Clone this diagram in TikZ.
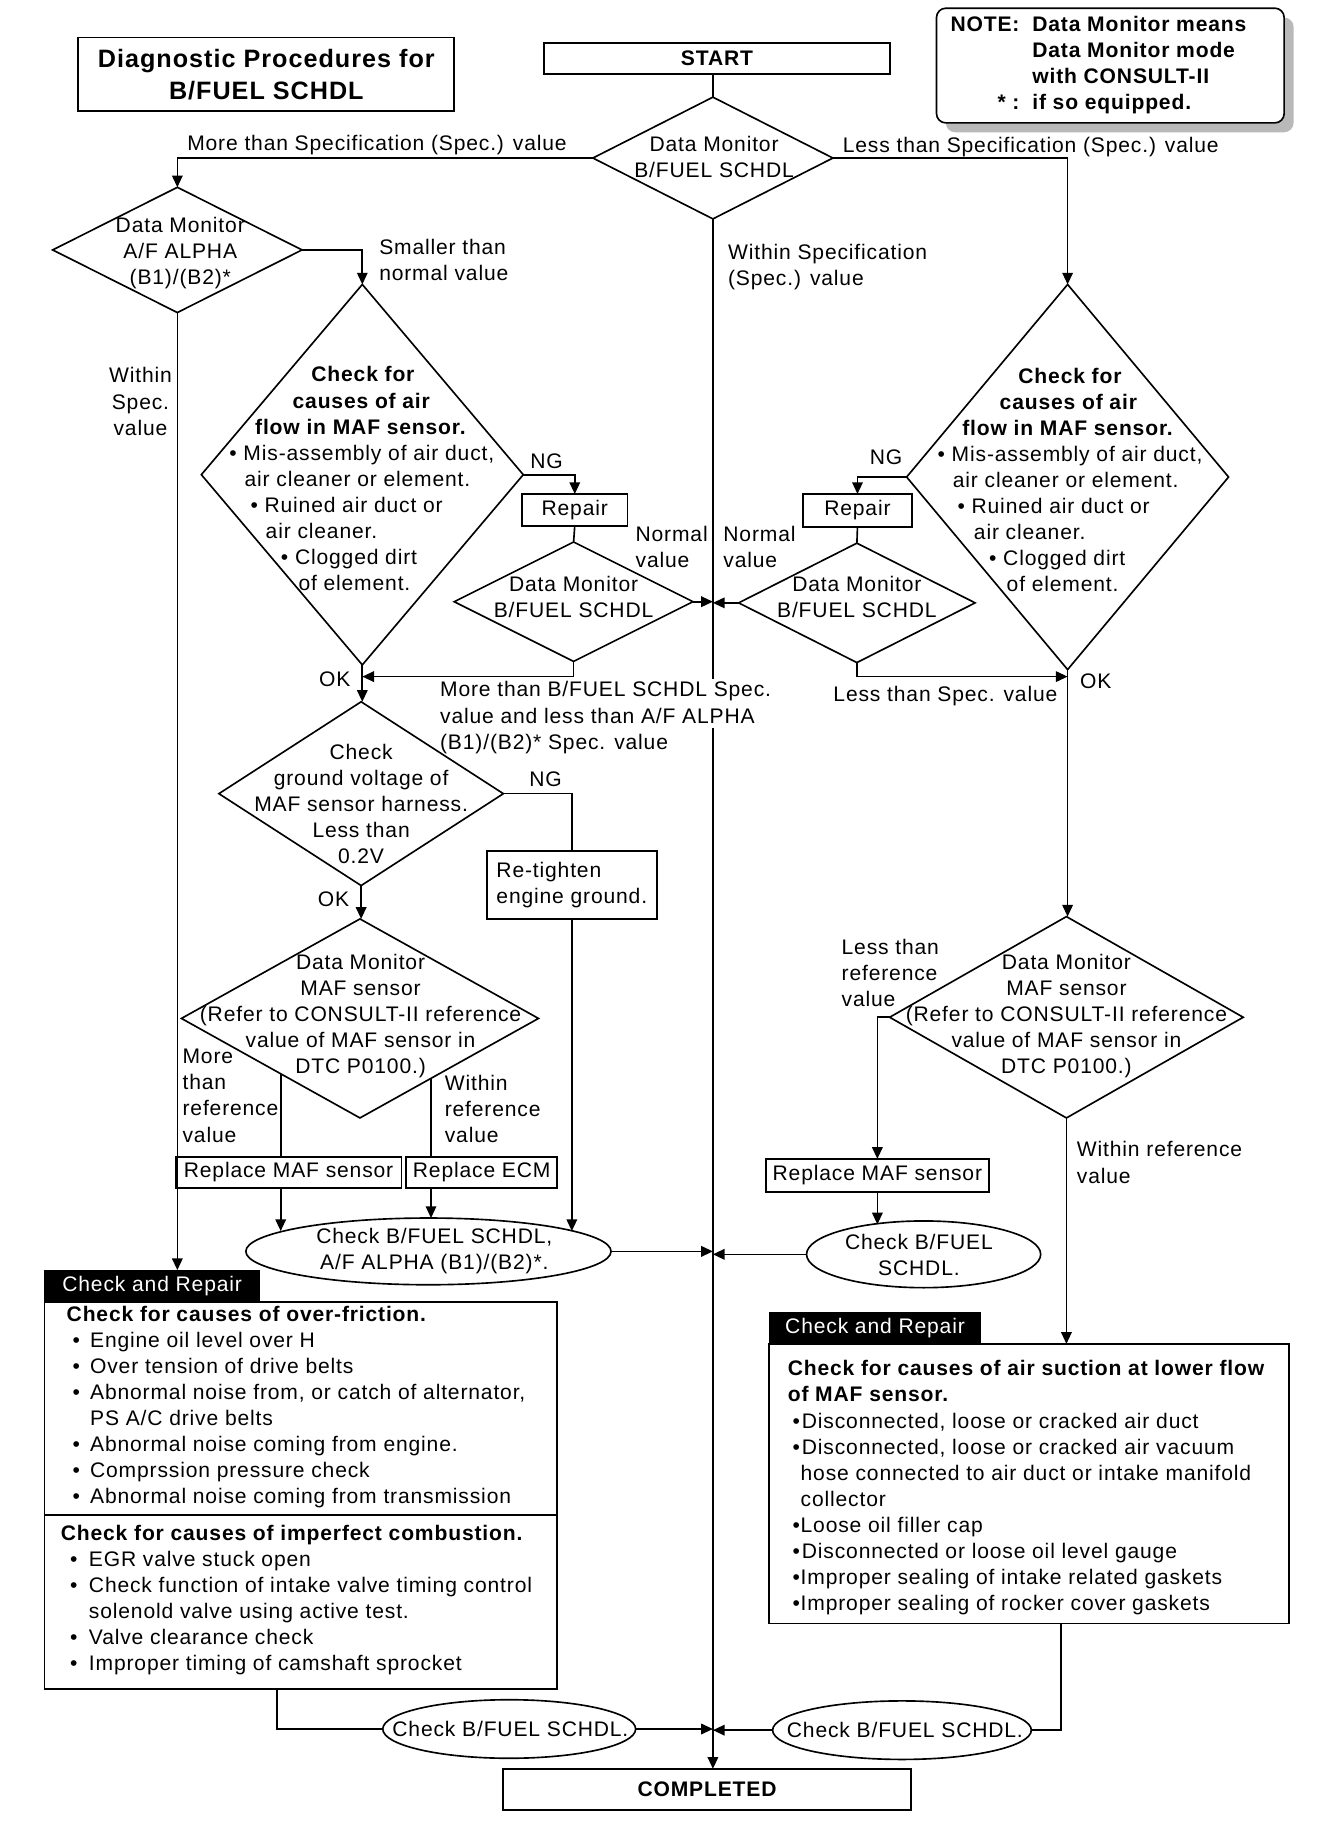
\documentclass[tikz,border=0pt]{standalone}
\usepackage{fontspec}
\setmainfont[LetterSpace=4]{Liberation Sans}
\usetikzlibrary{shapes.geometric,arrows.meta,calc}
\newcommand\myfs{\fontsize{18}{22.3}\selectfont}
\newcommand\mybul{\makebox[15pt][l]{•}}
\begin{document}
\begin{tikzpicture}[x=1pt,y=-1pt,line width=1.4pt,
  every node/.style={inner sep=0pt,outer sep=0pt,font=\myfs},
  dia/.style={draw,diamond},
  boxx/.style={draw,rectangle,line width=1.6pt},
  ell/.style={draw,ellipse},
  arr/.style={-{Triangle[length=10pt,width=9pt]}},
  lbl/.style={align=left,anchor=west},
  ctr/.style={align=center},
  head/.style={fill=black,text=white,rectangle}]
\useasboundingbox[fill=white] (0,0) rectangle (1148,1565);

% title, start, note
\node[boxx,minimum width=321pt,minimum height=63pt,align=center,font=\fontsize{21.5}{27}\selectfont\bfseries] (title) at (227.5,63.5) {Diagnostic Procedures for\\B/FUEL SCHDL};
\node[boxx,minimum width=295pt,minimum height=26pt,font=\myfs\bfseries] (start) at (612.5,50) {START};
\fill[gray!55,rounded corners=8pt] (808,15) rectangle (1105,113);
\node[draw,fill=white,rounded corners=8pt,minimum width=297pt,minimum height=98pt] (note) at (948.5,56) {};
\node[anchor=west,font=\myfs\bfseries] (notet) at (812,56) {\begin{tabular}{@{}r@{\hspace{11pt}}l@{}}NOTE: & Data Monitor means\\ & Data Monitor mode\\ & with CONSULT-II\\ {*}\ : & if so equipped.\end{tabular}};

% diamonds
\node[dia,minimum width=205pt,minimum height=104pt] (d1) at (609,135) {};
\node[ctr] (d1t) at (610,134) {Data Monitor\\B/FUEL SCHDL};
\node[dia,minimum width=213pt,minimum height=107pt] (d2) at (151.5,213.5) {};
\node[ctr] (d2t) at (154,216) {Data Monitor\\A/F ALPHA\\(B1)/(B2)*};
\node[dia,minimum width=275pt,minimum height=325pt] (d3) at (309.5,405.5) {};
\node[lbl] (d3t) at (196,409) {\hspace*{70pt}\textbf{Check for}\\\hspace*{54pt}\textbf{causes of air}\\\hspace*{22pt}\textbf{flow in MAF sensor.}\\•\ Mis-assembly of air duct,\\\hspace*{13pt}air cleaner or element.\\\hspace*{18pt}•\ Ruined air duct or\\\hspace*{31pt}air cleaner.\\\hspace*{44pt}•\ Clogged dirt\\\hspace*{59pt}of element.};
\node[dia,minimum width=275pt,minimum height=329pt] (d7) at (912,407.5) {};
\node[lbl] (d7t) at (801,410) {\hspace*{69pt}\textbf{Check for}\\\hspace*{53pt}\textbf{causes of air}\\\hspace*{21pt}\textbf{flow in MAF sensor.}\\•\ Mis-assembly of air duct,\\\hspace*{13pt}air cleaner or element.\\\hspace*{17pt}•\ Ruined air duct or\\\hspace*{31pt}air cleaner.\\\hspace*{44pt}•\ Clogged dirt\\\hspace*{59pt}of element.};
\node[boxx,minimum width=90pt,minimum height=27pt] (repL) at (491,435.5) {Repair};
\node[dia,minimum width=204pt,minimum height=102pt] (d4) at (490,514) {};
\node[ctr] (d4t) at (490,510) {Data Monitor\\B/FUEL SCHDL};
\node[boxx,minimum width=93pt,minimum height=28pt] (repR) at (732.5,436) {Repair};
\node[dia,minimum width=202pt,minimum height=102pt] (d8) at (732,515) {};
\node[ctr] (d8t) at (732,510) {Data Monitor\\B/FUEL SCHDL};
\node[dia,minimum width=243pt,minimum height=157pt] (d5) at (308.5,678) {};
\node[ctr] (d5t) at (308.5,687) {Check\\ground voltage of\\MAF sensor harness.\\Less than\\0.2V};
\node[boxx,minimum width=145pt,minimum height=58pt,align=left] (rt) at (488.5,756) {Re-tighten\\engine ground.};
\node[dia,minimum width=305pt,minimum height=170pt] (d6) at (307.5,870) {};
\node[ctr] (d6t) at (308,868) {Data Monitor\\MAF sensor\\(Refer to CONSULT-II reference\\value of MAF sensor in\\DTC P0100.)};
\node[boxx,minimum width=193pt,minimum height=27pt] (mafL) at (246.5,1001.5) {Replace MAF sensor};
\node[boxx,minimum width=129pt,minimum height=27pt] (ecm) at (411.5,1001.5) {Replace ECM};
\node[dia,minimum width=302pt,minimum height=172pt] (d9) at (911,869) {};
\node[ctr] (d9t) at (911,868) {Data Monitor\\MAF sensor\\(Refer to CONSULT-II reference\\value of MAF sensor in\\DTC P0100.)};
\node[boxx,minimum width=191pt,minimum height=28pt] (mafR) at (749.5,1004) {Replace MAF sensor};

% ellipses
\node[ell,minimum width=312pt,minimum height=57pt] (e1) at (366,1069) {};
\node[ctr] (e1t) at (371,1069) {Check B/FUEL SCHDL,\\A/F ALPHA (B1)/(B2)*.};
\node[ell,minimum width=200pt,minimum height=57pt] (e2) at (789,1071.5) {};
\node[ctr] (e2t) at (785,1072) {Check B/FUEL\\SCHDL.};
\node[ell,minimum width=216pt,minimum height=50pt] (e3) at (435,1477) {};
\node (e3t) at (436,1477) {Check B/FUEL SCHDL.};
\node[ell,minimum width=221pt,minimum height=50pt] (e4) at (770.5,1478) {};
\node (e4t) at (773,1478) {Check B/FUEL SCHDL.};
\node[boxx,minimum width=348pt,minimum height=35pt,font=\myfs\bfseries] (done) at (604,1528.5) {COMPLETED};

% check and repair boxes
\node[boxx,line width=1.4pt,minimum width=438pt,minimum height=331pt] (lbox) at (257,1277.5) {};
\node[head,minimum width=184pt,minimum height=27pt] (lhead) at (130,1098.5) {Check and Repair};
\draw (lbox.west |- 0,1294) -- (lbox.east |- 0,1294);
\node[lbl] (ls1) at (57,1202) {\textbf{Check for causes of over-friction.}\\
\hspace*{5pt}\mybul Engine oil level over H\\
\hspace*{5pt}\mybul Over tension of drive belts\\
\hspace*{5pt}\mybul Abnormal noise from, or catch of alternator,\\
\hspace*{20pt}PS A/C drive belts\\
\hspace*{5pt}\mybul Abnormal noise coming from engine.\\
\hspace*{5pt}\mybul Comprssion pressure check\\
\hspace*{5pt}\mybul Abnormal noise coming from transmission};
\node[lbl] (ls2) at (52,1367) {\textbf{Check for causes of imperfect combustion.}\\
\hspace*{8pt}\makebox[16pt][l]{•}EGR valve stuck open\\
\hspace*{8pt}\makebox[16pt][l]{•}Check function of intake valve timing control\\
\hspace*{24pt}solenold valve using active test.\\
\hspace*{8pt}\makebox[16pt][l]{•}Valve clearance check\\
\hspace*{8pt}\makebox[16pt][l]{•}Improper timing of camshaft sprocket};
\node[boxx,line width=1.4pt,minimum width=444pt,minimum height=239pt] (rbox) at (879,1267.5) {};
\node[head,minimum width=181pt,minimum height=27pt] (rhead) at (747.5,1134.5) {Check and Repair};
\node[lbl] (rs1) at (673,1271) {\textbf{Check for causes of air suction at lower flow}\\
\textbf{of MAF sensor.}\\
\hspace*{4pt}\makebox[8pt][l]{•}Disconnected, loose or cracked air duct\\
\hspace*{4pt}\makebox[8pt][l]{•}Disconnected, loose or cracked air vacuum\\
\hspace*{11pt}hose connected to air duct or intake manifold\\
\hspace*{11pt}collector\\
\hspace*{4pt}\makebox[7pt][l]{•}Loose oil filler cap\\
\hspace*{4pt}\makebox[8pt][l]{•}Disconnected or loose oil level gauge\\
\hspace*{4pt}\makebox[7pt][l]{•}Improper sealing of intake related gaskets\\
\hspace*{4pt}\makebox[7pt][l]{•}Improper sealing of rocker cover gaskets};

% labels
\node[lbl] (lb1) at (160,124) {More than Specification (Spec.) value};
\node[lbl] (lb2) at (720,126) {Less than Specification (Spec.) value};
\node[lbl] (lb3) at (622,228) {Within Specification\\(Spec.) value};
\node[lbl] (lb4) at (324,222) {Smaller than\\normal value};
\node[ctr] (lb5) at (120,343) {Within\\Spec.\\value};
\node (ng1) at (467,394) {NG};
\node (ng2) at (757,391) {NG};
\node (ng3) at (466,666) {NG};
\node[lbl] (nv1) at (543,467) {Normal\\value};
\node[lbl] (nv2) at (618,467) {Normal\\value};
\node (ok1) at (286,580) {OK};
\node (ok2) at (936,582) {OK};
\node (ok3) at (285,768) {OK};
\node[lbl] (lb7) at (712,595) {Less than Spec. value};
\node[lbl] (lb8) at (156,936) {More\\than\\reference\\value};
\node[lbl] (lb9) at (380,947) {Within\\reference\\value};
\node[lbl] (lb10) at (719,831) {Less than\\reference\\value};
\node[lbl] (lb11) at (920,993) {Within reference\\value};

% helper coordinates
\coordinate (okL) at ($(d3.south)+(0,10)$);
\coordinate (okR) at ($(d7.south)+(0,6)$);
\coordinate (d6l) at ($(d6.west)!0.556!(d6.south)$);
\coordinate (d6r) at ($(d6.south)!0.398!(d6.east)$);
\coordinate (lout) at ($(lbox.south west)!0.454!(lbox.south east)$);
\coordinate (rout) at ($(rbox.south west)!0.561!(rbox.south east)$);

% connectors
\draw (d1.north |- start.south) -- (d1.north);
\draw[arr] (d1.south) -- (d1.south |- done.north);
\draw[arr] (d1.west) -| (d2.north);
\draw[arr] (d1.east) -| (d7.north);
\draw[arr] (d2.east) -| (d3.north);
\draw[arr] (d2.south) -- (d2.south |- lhead.north);
\draw[arr] (d3.east) -| (repL.north);
\draw (repL.south) -- (d4.north);
\draw[arr] (d4.east) -- (d4.east -| d1.south);
\draw[arr] (d4.south) |- (okL);
\draw[arr] (d3.south) -- (d3.south |- d5.north);
\draw[arr] (d7.west) -| (repR.north);
\draw (repR.south) -- (d8.north);
\draw[arr] (d8.west) -- (d8.west -| d1.south);
\draw[arr] (d8.south) |- (okR);
\draw[arr] (d7.south) -- (d7.south |- d9.north);
\draw (d5.east) -| (rt.north);
\draw[arr] (rt.south) -- (rt.south |- e1.8);
\draw[arr] (d5.south) -- (d5.south |- d6.north);
\draw (d6l) -- (d6l |- mafL.north);
\draw (d6r) -- (d6r |- ecm.north);
\draw[arr] (d6l |- mafL.south) -- (d6l |- e1.172);
\draw[arr] (d6r |- ecm.south) -- (d6r |- e1.north);
\draw[arr] (e1.east) -- (e1.east -| d1.south);
\draw[arr] (d9.west) -| (mafR.north);
\draw[arr] (mafR.south) -- (mafR.south |- e2.150);
\draw[arr] (e2.west) -- (e2.west -| d1.south);
\draw[arr] (d9.south) -- (d9.south |- rbox.north);
\draw (lout) |- (e3.west);
\draw[arr] (e3.east) -- (e3.east -| d1.south);
\draw (rout) |- (e4.east);
\draw[arr] (e4.west) -- (e4.west -| d1.south);

% label that interrupts the trunk
\fill[white] (600,580) rectangle (618,622);
\node[lbl] (lb6) at (376,613) {More than B/FUEL SCHDL Spec.\\value and less than A/F ALPHA\\(B1)/(B2)* Spec. value};
\end{tikzpicture}
\end{document}
